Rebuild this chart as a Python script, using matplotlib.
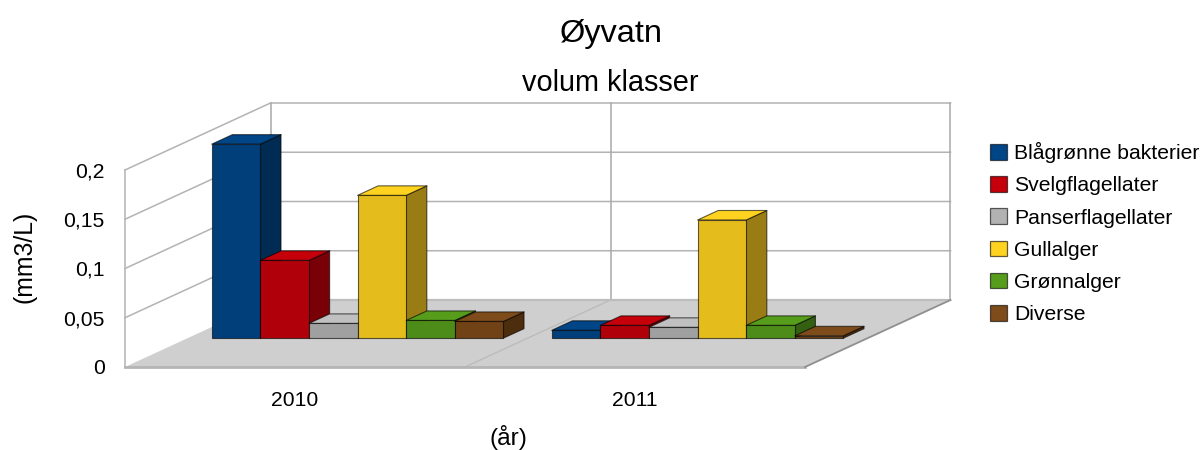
import matplotlib
matplotlib.use("Agg")
import matplotlib.pyplot as plt
from matplotlib.patches import Polygon, Patch
from matplotlib.ticker import FuncFormatter

plt.rcParams['font.family'] = ['Liberation Sans', 'DejaVu Sans']

title = "Øyvatn"
subtitle = "volum klasser"
x_label = "(år)"
y_label = "(mm3/L)"
years = ["2010", "2011"]
y_ticks = [0, 0.05, 0.1, 0.15, 0.2]
series = ["Blågrønne bakterier", "Svelgflagellater", "Panserflagellater",
          "Gullalger", "Grønnalger", "Diverse"]
v_2010 = [0.197, 0.079, 0.015, 0.145, 0.018, 0.017]
v_2011 = [0.008, 0.013, 0.011, 0.120, 0.013, 0.0024]
values = [v_2010, v_2011]
c_front = ["#003f7a", "#b0000a", "#a0a0a0", "#e4bc1c", "#4e8c19", "#714215"]
c_top = ["#004586", "#c5000b", "#c0c0c0", "#ffd320", "#579d1c", "#7e4b1a"]
c_side = ["#002b52", "#780006", "#747474", "#997d14", "#346012", "#4c2d0e"]
c_legend = ["#004586", "#c5000b", "#b2b2b2", "#ffd320", "#579d1c", "#7e4b1a"]

W, H = 1204, 450
L, R, T, B = 125.0, 950.5, 103.0, 367.0
PX_PER_CAT = 340.0
PX_PER_UNIT = 985.0
DEPTH_X = 145.5 / PX_PER_CAT      # category units per full depth
DEPTH_Y = 67.0 / PX_PER_UNIT      # value units per full depth
BAR_D0, BAR_D1 = 0.43, 0.572
BAR_W = 48.6 / PX_PER_CAT
GRID = "#b3b3b3"

fig = plt.figure(figsize=(W / 100, H / 100), dpi=100, facecolor="white")
ax = fig.add_axes([L / W, 1 - B / H, (R - L) / W, (B - T) / H])
ax.set_xlim(0, (R - L) / PX_PER_CAT)
ax.set_ylim(0, (B - T) / PX_PER_UNIT)
for s in ax.spines.values():
    s.set_visible(False)
ax.patch.set_alpha(0)


def pt(x, v, d):
    return (x + d * DEPTH_X, v + d * DEPTH_Y)


ncat = len(years)
top = y_ticks[-1]
# floor
ax.add_patch(Polygon([pt(0, 0, 0), pt(ncat, 0, 0), pt(ncat, 0, 1), pt(0, 0, 1)],
                     fc="#cfcfcf", ec="none", zorder=1))
# walls and grid
for v in y_ticks[1:]:
    a, b, c = pt(0, v, 0), pt(0, v, 1), pt(ncat, v, 1)
    ax.plot([a[0], b[0], c[0]], [a[1], b[1], c[1]], color=GRID, lw=1.1, zorder=2, clip_on=False)
a, b = pt(0, 0, 0), pt(0, top, 0)
ax.plot([a[0], b[0]], [a[1], b[1]], color=GRID, lw=1.1, zorder=2, clip_on=False)
for i in range(ncat + 1):
    a, b = pt(i, 0, 1), pt(i, top, 1)
    ax.plot([a[0], b[0]], [a[1], b[1]], color="#a8a8a8", lw=1.1, zorder=2, clip_on=False)
a, b = pt(1, 0, 0), pt(1, 0, 1)
ax.plot([a[0], b[0]], [a[1], b[1]], color="#bababa", lw=0.9, zorder=2)
# floor edges
a, b = pt(0, 0, 1), pt(ncat, 0, 1)
ax.plot([a[0], b[0]], [a[1], b[1]], color="#bdbdbd", lw=1.6, zorder=2, clip_on=False)
a, b = pt(0, 0, 0), pt(ncat, 0, 0)
ax.plot([a[0], b[0]], [a[1], b[1]], color="#b5b5b5", lw=2.0, zorder=2, clip_on=False)
a, b = pt(ncat, 0, 0), pt(ncat, 0, 1)
ax.plot([a[0], b[0]], [a[1], b[1]], color="#8f8f8f", lw=1.3, zorder=2, clip_on=False)

# bars
z = 3
edge = (0, 0, 0, 0.62)
for c, row in enumerate(values):
    x_start = c + 0.5 - BAR_W * len(row) / 2
    for j, val in enumerate(row):
        x0, x1 = x_start + j * BAR_W, x_start + (j + 1) * BAR_W
        faces = [
            ([pt(x1, 0, BAR_D0), pt(x1, 0, BAR_D1), pt(x1, val, BAR_D1), pt(x1, val, BAR_D0)], c_side[j]),
            ([pt(x0, val, BAR_D0), pt(x1, val, BAR_D0), pt(x1, val, BAR_D1), pt(x0, val, BAR_D1)], c_top[j]),
            ([pt(x0, 0, BAR_D0), pt(x1, 0, BAR_D0), pt(x1, val, BAR_D0), pt(x0, val, BAR_D0)], c_front[j]),
        ]
        for poly, col in faces:
            ax.add_patch(Polygon(poly, closed=True, fc=col, ec=edge, lw=0.8, zorder=z, joinstyle="round"))
        z += 1

ax.set_yticks(y_ticks)
ax.yaxis.set_major_formatter(FuncFormatter(lambda v, _: f"{v:g}".replace(".", ",")))
ax.set_xticks([i + 0.5 for i in range(ncat)])
ax.set_xticklabels(years)
ax.tick_params(axis="both", length=0, labelsize=15.2, colors="black")
ax.tick_params(axis="y", pad=14.5)
ax.tick_params(axis="x", pad=17.5)

ax.set_xlabel(x_label, fontsize=17.6, va="baseline")
ax.xaxis.set_label_coords((508 - L) / (R - L), (B - 445.5) / (B - T))
ax.set_ylabel(y_label, fontsize=17.8, rotation=90)
ax.yaxis.set_label_coords((36.5 - L) / (R - L), (B - 257) / (B - T))

fig.text(611.5 / W, 1 - 34 / H, title, fontsize=23.4, ha="center", va="center")
fig.text(610.5 / W, 1 - 83 / H, subtitle, fontsize=20.8, ha="center", va="center")

handles = [Patch(fc=f, ec=(0, 0, 0, 0.62), lw=0.9, label=n) for f, n in zip(c_legend, series)]
fig.legend(handles=handles, loc="upper left", bbox_to_anchor=(990 / W, 1 - 142 / H),
           bbox_transform=fig.transFigure, frameon=False, fontsize=15.25,
           borderpad=0, borderaxespad=0, handlelength=0.8, handleheight=0.76,
           handletextpad=0.35, labelspacing=0.615)

fig.savefig("out.png", dpi=100)
